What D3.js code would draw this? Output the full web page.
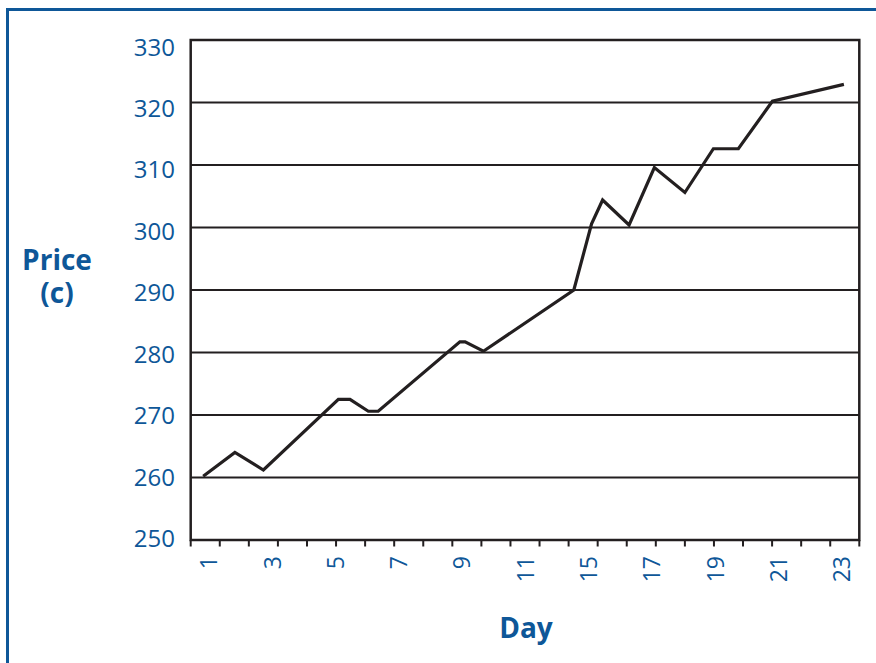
<!DOCTYPE html>
<html>
<head>
<meta charset="utf-8">
<script src="https://cdn.jsdelivr.net/npm/d3@7"></script>
<style>
  html, body { margin: 0; padding: 0; background: #fff; }
  svg { display: block; }
  text { font-family: "Open Sans", "Noto Sans", sans-serif; }
</style>
</head>
<body>
<svg id="chart" width="876" height="663"></svg>
<script>
// ---- data (x in minor-tick units along the day axis) ----
const dayPos = [0.43, 1.52, 2.50, 5.08, 5.48, 6.11, 6.45, 9.26, 9.44, 10.07, 13.18, 13.79, 14.17, 15.08, 15.95, 17.00, 17.98, 18.84, 20.01, 22.47];
const price  = [260.2, 264.0, 261.2, 272.5, 272.5, 270.6, 270.6, 281.7, 281.7, 280.2, 290.0, 300.6, 304.4, 300.4, 309.6, 305.6, 312.6, 312.6, 320.2, 322.9];

const xLabels = ["1", "3", "5", "7", "9", "11", "15", "17", "19", "21", "23"];
const xLabelPos = [0.6, 2.78, 4.96, 7.13, 9.31, 11.49, 13.66, 15.84, 18.02, 20.2, 22.37];
const minorTicks = d3.range(0, 24);
const yTicks = [250, 260, 270, 280, 290, 300, 310, 320, 330];

const blue = "#0e5798";
const ink = "#231f20";

const svg = d3.select("#chart");

// frame (top + left blue rule)
svg.append("line").attr("x1", 7.5).attr("x2", 876).attr("y1", 9.5).attr("y2", 9.5)
  .attr("stroke", blue).attr("stroke-width", 3);
svg.append("line").attr("x1", 7.5).attr("x2", 7.5).attr("y1", 8).attr("y2", 663)
  .attr("stroke", blue).attr("stroke-width", 3);

const x = d3.scaleLinear().domain([0, 23]).range([190.7, 859.3]);
const y = d3.scaleLinear().domain([250, 330]).range([540, 40]);
const yLab = d3.scaleLinear().domain([250, 330]).range([537.5, 46]);

// gridlines
svg.append("g").selectAll("line").data(yTicks.filter(v => v > 250 && v < 330)).join("line")
  .attr("x1", x(0)).attr("x2", x(23))
  .attr("y1", d => y(d)).attr("y2", d => y(d))
  .attr("stroke", ink).attr("stroke-width", 2);

// plot frame
svg.append("rect").attr("x", x(0)).attr("y", y(330))
  .attr("width", x(23) - x(0)).attr("height", y(250) - y(330))
  .attr("fill", "none").attr("stroke", ink).attr("stroke-width", 2.5);

// minor ticks on x axis
svg.append("g").selectAll("line").data(minorTicks).join("line")
  .attr("x1", d => x(d)).attr("x2", d => x(d))
  .attr("y1", y(250)).attr("y2", y(250) + 6.5)
  .attr("stroke", ink).attr("stroke-width", 2);

// y labels
svg.append("g").selectAll("text").data(yTicks).join("text")
  .attr("x", 175).attr("y", d => yLab(d))
  .attr("text-anchor", "end").attr("dominant-baseline", "central")
  .attr("fill", blue).attr("font-size", 24)
  .text(d => d);

// x labels (rotated)
svg.append("g").selectAll("text").data(xLabels).join("text")
  .attr("transform", (d, i) => `translate(${x(xLabelPos[i])},556) rotate(-90)`)
  .attr("text-anchor", "end").attr("dominant-baseline", "central")
  .attr("fill", blue).attr("font-size", 23)
  .text(d => d);

// line
const pts = dayPos.map((d, i) => [d, price[i]]);
svg.append("path").datum(pts)
  .attr("fill", "none").attr("stroke", ink).attr("stroke-width", 3.2)
  .attr("stroke-linejoin", "miter")
  .attr("d", d3.line().x(d => x(d[0])).y(d => y(d[1])));

// axis titles
svg.append("text").attr("x", 57).attr("y", 270)
  .attr("fill", blue).attr("font-size", 28).attr("font-weight", "bold")
  .attr("text-anchor", "middle").text("Price");
svg.append("text").attr("x", 57).attr("y", 303)
  .attr("fill", blue).attr("font-size", 28).attr("font-weight", "bold")
  .attr("text-anchor", "middle").text("(c)");

svg.append("text").attr("x", 526).attr("y", 638)
  .attr("fill", blue).attr("font-size", 28).attr("font-weight", "bold")
  .attr("text-anchor", "middle").text("Day");
</script>
</body>
</html>
